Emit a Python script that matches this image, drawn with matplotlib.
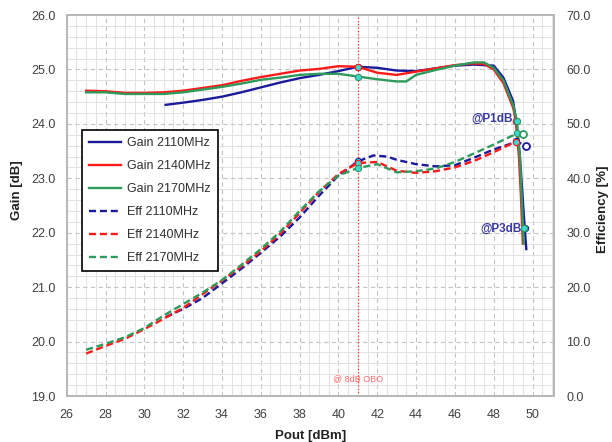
import numpy as np
import matplotlib.pyplot as plt
from matplotlib.ticker import MultipleLocator, FormatStrFormatter

plt.rcParams['font.family'] = ['Liberation Sans', 'DejaVu Sans']

# gain curves, Pout [dBm] vs gain [dB]
pout_g2110 = [31.1, 32, 33, 34, 35, 36, 37, 38, 39, 40, 41, 42, 43, 44, 45, 46, 47, 48,
              48.5, 49, 49.15, 49.35, 49.5, 49.6, 49.68]
gain_2110 = [24.35, 24.39, 24.44, 24.50, 24.58, 24.67, 24.76, 24.84, 24.90, 24.97, 25.05,
             25.03, 24.98, 24.97, 25.02, 25.07, 25.09, 25.07, 24.85, 24.42, 24.05, 23.40,
             22.60, 22.08, 21.70]

pout_g2140 = [27, 28, 29, 30, 31, 32, 33, 34, 35, 36, 37, 38, 39, 40, 41, 42, 43, 44, 45,
              46, 47, 47.5, 48, 48.5, 49, 49.15, 49.3, 49.4, 49.5]
gain_2140 = [24.61, 24.60, 24.57, 24.57, 24.58, 24.61, 24.66, 24.71, 24.79, 24.86, 24.92,
             24.98, 25.01, 25.06, 25.05, 24.94, 24.90, 24.96, 25.02, 25.08, 25.11, 25.10,
             25.00, 24.75, 24.30, 24.05, 23.40, 22.70, 21.80]

pout_g2170 = [27, 28, 29, 30, 31, 32, 33, 34, 35, 36, 37, 38, 39, 40, 41, 42, 43, 43.5,
              44, 45, 46, 47, 47.5, 48, 48.5, 49, 49.2, 49.35, 49.45, 49.55]
gain_2170 = [24.58, 24.58, 24.55, 24.55, 24.55, 24.58, 24.63, 24.68, 24.74, 24.81, 24.85,
             24.90, 24.92, 24.92, 24.87, 24.82, 24.78, 24.78, 24.90, 24.99, 25.07, 25.13,
             25.13, 25.03, 24.80, 24.35, 24.05, 23.40, 22.60, 21.80]

# drain efficiency curves, Pout [dBm] vs efficiency [%]
pout_e2110 = [31.1, 32, 33, 34, 35, 36, 37, 38, 39, 40, 41, 41.8, 42.5, 43, 44, 45, 46, 47,
              48, 49, 49.15, 49.65]
eff_2110 = [14.5, 16.0, 18.0, 20.7, 23.4, 26.3, 29.3, 32.8, 36.8, 40.5, 43.1, 44.2, 44.0,
            43.4, 42.6, 42.2, 42.4, 43.8, 45.3, 46.5, 46.8, 46.0]

pout_e2140 = [27, 28, 29, 30, 31, 32, 33, 34, 35, 36, 37, 38, 39, 40, 41, 42, 43, 44, 45,
              46, 47, 48, 49, 49.15]
eff_2140 = [7.8, 9.2, 10.5, 12.3, 14.2, 16.2, 18.7, 21.2, 23.8, 26.6, 29.8, 33.6, 37.5,
            40.8, 42.8, 43.0, 41.4, 41.0, 41.3, 42.0, 43.2, 44.8, 46.5, 46.7]

pout_e2170 = [27, 28, 29, 30, 31, 32, 33, 34, 35, 36, 37, 38, 39, 40, 41, 42, 43, 44, 45,
              46, 47, 48, 49, 49.1, 49.5]
eff_2170 = [8.5, 9.6, 10.8, 12.5, 14.8, 16.9, 19.0, 21.3, 24.1, 27.0, 30.2, 34.0, 37.6,
            40.5, 41.9, 42.6, 41.1, 41.3, 41.8, 43.0, 44.6, 46.2, 47.9, 48.4, 48.1]

# marked operating points
obo_pout = 41
obo_gain = [25.05, 25.05, 24.87]
obo_eff = [43.1, 42.8, 41.9]
p1db_pout = [49.15, 49.15, 49.2]
p1db_gain = [24.05, 24.05, 24.05]
p1db_eff = [46.8, 46.7, 48.4]
p3db_pout = [49.6, 49.55]
p3db_gain = [22.08, 22.08]
end_pout = [49.65, 49.5]
end_eff = [46.0, 48.1]

c_blue = '#1a1a9a'
c_red = '#ff1a1a'
c_green = '#2e9a5c'
c_mark = '#3fd8d0'

fig = plt.figure(figsize=(6.12, 4.42), dpi=100)
ax = fig.add_axes([0.109, 0.104, 0.796, 0.862])
ax2 = ax.twinx()

ax.plot(pout_g2110, gain_2110, color=c_blue, lw=1.7, label='Gain 2110MHz')
ax.plot(pout_g2140, gain_2140, color=c_red, lw=1.7, label='Gain 2140MHz')
ax.plot(pout_g2170, gain_2170, color=c_green, lw=1.7, label='Gain 2170MHz')

d = (3, 1.6)
ax2.plot(pout_e2110, eff_2110, color=c_blue, lw=1.7, dashes=d, label='Eff 2110MHz')
ax2.plot(pout_e2140, eff_2140, color=c_red, lw=1.7, dashes=d, label='Eff 2140MHz')
ax2.plot(pout_e2170, eff_2170, color=c_green, lw=1.7, dashes=d, label='Eff 2170MHz')

mk = dict(marker='o', ms=4.5, mfc=c_mark, mew=0.8, ls='none', zorder=5)
for g, e, c in zip(obo_gain, obo_eff, [c_blue, c_red, c_green]):
    ax.plot([obo_pout], [g], mec=c, **mk)
    ax2.plot([obo_pout], [e], mec=c, **mk)
for p, g, e, c in zip(p1db_pout, p1db_gain, p1db_eff, [c_blue, c_red, c_green]):
    ax.plot([p], [g], mec=c, **mk)
    ax2.plot([p], [e], mec=c, **mk)
for p, g, c in zip(p3db_pout, p3db_gain, [c_blue, c_green]):
    ax.plot([p], [g], mec=c, **mk)
for p, e, c in zip(end_pout, end_eff, [c_blue, c_green]):
    ax2.plot([p], [e], marker='o', ms=5, mfc='white', mec=c, mew=1.3, ls='none', zorder=5)

# 8 dB back-off marker
ax.axvline(obo_pout, color='#ff3030', lw=0.9, ls=':')
ax.text(obo_pout, 19.31, '@ 8dB OBO', color='#ff6a6a', fontsize=6.5, ha='center', va='center')

ax.text(49.0, 24.09, '@P1dB', color='#3a3aa0', fontsize=8.5, fontweight='bold',
        ha='right', va='center')
ax.text(49.45, 22.08, '@P3dB', color='#3a3aa0', fontsize=8.5, fontweight='bold',
        ha='right', va='center')

ax.set_xlim(26, 51.1)
ax.set_ylim(19, 26)
ax2.set_ylim(0, 70)

ax.xaxis.set_major_locator(MultipleLocator(2))
ax.xaxis.set_minor_locator(MultipleLocator(0.5))
ax.yaxis.set_major_locator(MultipleLocator(1))
ax.yaxis.set_minor_locator(MultipleLocator(0.2))
ax.yaxis.set_major_formatter(FormatStrFormatter('%.1f'))
ax2.yaxis.set_major_locator(MultipleLocator(10))
ax2.yaxis.set_major_formatter(FormatStrFormatter('%.1f'))

ax.grid(which='major', color='#c4c4c4', lw=0.8, ls=(0, (4, 3)))
ax.grid(which='minor', color='#e2e2e2', lw=0.7, ls='-')
ax.set_axisbelow(True)

for a in (ax, ax2):
    for s in a.spines.values():
        s.set_color('#b8b8b8')
        s.set_linewidth(1.3)
    a.tick_params(which='both', length=0, labelsize=9, labelcolor='#404040')
ax.tick_params(axis='y', pad=8)
ax2.tick_params(axis='y', pad=9)
ax.tick_params(axis='x', pad=9)

ax.set_xlabel('Pout [dBm]', fontsize=9.5, fontweight='bold', color='#202020')
ax.set_ylabel('Gain [dB]', fontsize=9.5, fontweight='bold', color='#202020')
ax2.set_ylabel('Efficiency [%]', fontsize=9.5, fontweight='bold', color='#202020')
ax.xaxis.set_label_coords(0.5, -0.088)
ax.yaxis.set_label_coords(-0.09, 0.54)
ax2.yaxis.set_label_coords(1.088, 0.49)

h1, l1 = ax.get_legend_handles_labels()
h2, l2 = ax2.get_legend_handles_labels()
leg = ax2.legend(h1 + h2, l1 + l2, loc='upper left', bbox_to_anchor=(0.031, 0.697),
                 fontsize=9, frameon=True, fancybox=False, framealpha=1,
                 edgecolor='black', handlelength=2.6, handletextpad=0.5,
                 labelspacing=0.88, borderpad=0.55, borderaxespad=0)
leg.get_frame().set_linewidth(1.2)
for t in leg.get_texts():
    t.set_color('#303030')

fig.savefig('out.png', dpi=100)
